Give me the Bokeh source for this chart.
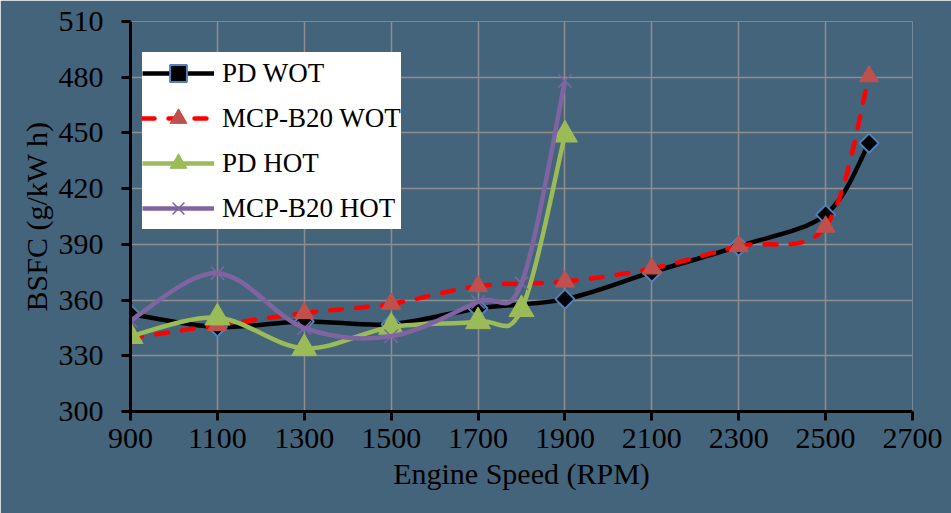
import numpy as np
from bokeh.plotting import figure
from bokeh.models import (FixedTicker, Legend, LegendItem, ColumnDataSource)
from bokeh.embed import file_html
from bokeh.resources import INLINE

# ---------------- data ----------------
rpm_wot = [900, 1100, 1300, 1500, 1700, 1900, 2100, 2300, 2500, 2600]
pd_wot = [352.5, 345.5, 348.5, 347.0, 355.5, 360.5, 375.0, 389.0, 406.0, 444.5]
mcp_wot = [339.5, 346.5, 353.0, 358.0, 367.5, 370.0, 377.0, 389.0, 399.5, 480.5]

rpm_hot = [900, 1100, 1300, 1500, 1700, 1800, 1900]
pd_hot = [340.5, 350.5, 334.0, 345.5, 348.5, 355.0, 449.0]
mcp_hot = [349.0, 374.5, 345.0, 340.5, 359.0, 369.0, 478.0]

x_ticks = [900, 1100, 1300, 1500, 1700, 1900, 2100, 2300, 2500, 2700]
y_ticks = [300, 330, 360, 390, 420, 450, 480, 510]

series_names = ["PD WOT", "MCP-B20 WOT", "PD HOT", "MCP-B20 HOT"]
x_label = "Engine Speed (RPM)"
y_label = "BSFC (g/kW h)"

FONT = "Liberation Serif"
BG = "#44647b"


def smooth_segments(xs, ys):
    """Bezier control points for a smoothed line through the data points."""
    xs = np.asarray(xs, float)
    ys = np.asarray(ys, float)
    n = len(xs)
    d = dict(x0=[], y0=[], x1=[], y1=[], cx0=[], cy0=[], cx1=[], cy1=[])
    for i in range(n - 1):
        a = i - 1 if i > 0 else i
        b = i + 2 if i + 2 < n else i + 1
        d["x0"].append(xs[i]); d["y0"].append(ys[i])
        d["x1"].append(xs[i + 1]); d["y1"].append(ys[i + 1])
        d["cx0"].append(xs[i] + (xs[i + 1] - xs[a]) / 6.0)
        d["cy0"].append(ys[i] + (ys[i + 1] - ys[a]) / 6.0)
        d["cx1"].append(xs[i + 1] - (xs[b] - xs[i]) / 6.0)
        d["cy1"].append(ys[i + 1] - (ys[b] - ys[i]) / 6.0)
    return ColumnDataSource(d)


p = figure(width=951, height=513, x_range=(900, 2700), y_range=(300, 510),
           output_backend="svg", toolbar_location=None,
           min_border_left=130, min_border_right=39,
           min_border_top=21, min_border_bottom=102)

p.background_fill_color = BG
p.border_fill_color = BG
p.outline_line_color = None

# axes
for ax in (p.xaxis[0], p.yaxis[0]):
    ax.axis_line_color = "black"
    ax.axis_line_width = 3
    ax.major_tick_line_color = "black"
    ax.major_tick_line_width = 3
    ax.major_tick_out = 9
    ax.major_tick_in = 0
    ax.minor_tick_line_color = None
    ax.major_label_text_font = FONT
    ax.major_label_text_font_size = "30px"
    ax.major_label_text_color = "black"
    ax.axis_label_text_font = FONT
    ax.axis_label_text_font_size = "30px"
    ax.axis_label_text_font_style = "normal"
    ax.axis_label_text_color = "black"

p.xaxis.ticker = FixedTicker(ticks=x_ticks)
p.yaxis.ticker = FixedTicker(ticks=y_ticks)
p.xaxis.major_label_standoff = 8
p.yaxis.major_label_standoff = 18
p.xaxis.axis_label = x_label
p.xaxis.axis_label_standoff = 6
p.yaxis.axis_label = y_label
p.yaxis.axis_label_standoff = 3

p.xgrid.ticker = FixedTicker(ticks=x_ticks)
p.ygrid.ticker = FixedTicker(ticks=y_ticks)
for g in (p.xgrid[0], p.ygrid[0]):
    g.grid_line_color = "#8e8e8e"
    g.grid_line_width = 1.5

items = []

# PD WOT
s = smooth_segments(rpm_wot, pd_wot)
r1 = p.bezier("x0", "y0", "x1", "y1", "cx0", "cy0", "cx1", "cy1", source=s,
              line_color="black", line_width=4.5)
m1 = p.scatter(rpm_wot, pd_wot, marker="square", size=13.5, angle=np.pi / 4,
               fill_color="black", line_color="#4f81bd", line_width=2)
items.append(LegendItem(label=series_names[0], renderers=[r1, m1]))

# MCP-B20 WOT
s = smooth_segments(rpm_wot, mcp_wot)
r2 = p.bezier("x0", "y0", "x1", "y1", "cx0", "cy0", "cx1", "cy1", source=s,
              line_color="#ff0000", line_width=4.5, line_dash="12 14", line_cap="round")
m2 = p.scatter(rpm_wot, mcp_wot, marker="triangle", size=19,
               fill_color="#c0504d", line_color="#c0504d", line_width=1)
items.append(LegendItem(label=series_names[1], renderers=[r2, m2]))

# PD HOT
s = smooth_segments(rpm_hot, pd_hot)
r3 = p.bezier("x0", "y0", "x1", "y1", "cx0", "cy0", "cx1", "cy1", source=s,
              line_color="#9bbb59", line_width=4.5)
m3 = p.scatter(rpm_hot, pd_hot, marker="triangle", size=25,
               fill_color="#9bbb59", line_color="#9bbb59", line_width=1)
items.append(LegendItem(label=series_names[2], renderers=[r3, m3]))

# MCP-B20 HOT
s = smooth_segments(rpm_hot, mcp_hot)
r4 = p.bezier("x0", "y0", "x1", "y1", "cx0", "cy0", "cx1", "cy1", source=s,
              line_color="#8064a2", line_width=4.5)
m4 = p.scatter(rpm_hot, mcp_hot, marker="x", size=19,
               line_color="#8064a2", line_width=1.5)
items.append(LegendItem(label=series_names[3], renderers=[r4, m4]))

legend = Legend(items=items, location=(12, 182),
                background_fill_color="white", background_fill_alpha=1.0,
                border_line_color=None,
                label_text_font=FONT, label_text_font_size="27px",
                label_text_color="black", label_text_baseline="middle",
                glyph_width=72, glyph_height=42, label_height=42,
                label_standoff=8, spacing=3, padding=10, margin=0)
p.add_layout(legend, "center")

open("out.html", "w").write(file_html(p, INLINE))
